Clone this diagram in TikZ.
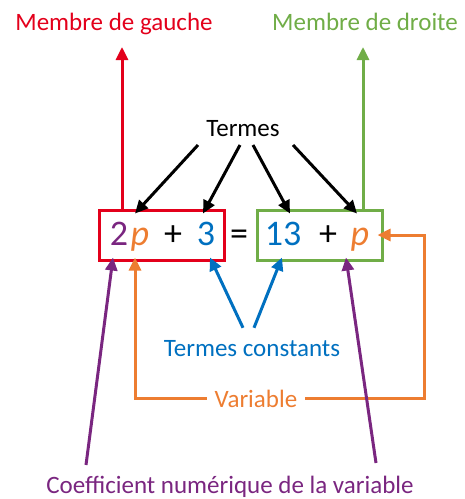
\documentclass[tikz,border=0pt]{standalone}
\usepackage{fontspec}
\setmainfont{Carlito}
\usetikzlibrary{arrows.meta,calc,positioning}
\definecolor{mred}{RGB}{227,0,27}
\definecolor{mgreen}{RGB}{112,173,71}
\definecolor{mblue}{RGB}{0,112,192}
\definecolor{morange}{RGB}{237,125,49}
\definecolor{mpurple}{RGB}{122,38,128}
\tikzset{
  box/.style={draw=#1,line width=3pt,minimum width=125pt,minimum height=50pt,inner sep=0pt},
  arr/.style={line width=3pt,#1,-{Triangle[length=13pt,width=12pt]}},
  lbl/.style={font=\fontsize{25}{30}\selectfont,inner sep=0pt,anchor=base},
  sym/.style={font=\fontsize{36}{40}\selectfont,inner sep=0pt,anchor=base},
}

\begin{document}
\begin{tikzpicture}[x=1pt,y=-1pt]
  \useasboundingbox (0,0) rectangle (465,499);
  % --- the equation in its two boxes ---
  \node[box=mred] (lhs) at (161.5,235) {};
  \node[box=mgreen] (rhs) at (319.5,235) {};
  \node[sym,mpurple] (two) at (119,245) {2};
  \node[sym,morange] (pl) at (140,245) {\textit{p}};
  \node[sym] (plus1) at (173,245) {+};
  \node[sym,mblue] (three) at (206,245) {3};
  \node[sym] (eq) at (239,245) {=};
  \node[sym,mblue] (thirteen) at (283,245) {13};
  \node[sym] (plus2) at (328,245) {+};
  \node[sym,morange] (pr) at (360,245) {\textit{p}};
  % --- members ---
  \node[lbl,mred] (gauche) at (114,30) {Membre de gauche};
  \node[lbl,mgreen] (droite) at (365,30) {Membre de droite};
  \coordinate (gtip) at (122,47);
  \coordinate (dtip) at (363,47);
  \draw[arr=mred] (lhs.north -| gtip) -- (gtip);
  \draw[arr=mgreen] (rhs.north -| dtip) -- (dtip);
  % --- terms ---
  \node[lbl] (termes) at (243,136) {Termes};
  \coordinate (t1) at (198,145);
  \coordinate (t2) at (240,145);
  \coordinate (t3) at (253,145);
  \coordinate (t4) at (293,145);
  \draw[arr=black] (t1) -- ($(lhs.north -| pl)+(-5,5)$);
  \draw[arr=black] (t2) -- ($(lhs.north -| three)+(-3,5)$);
  \draw[arr=black] (t3) -- ($(rhs.north -| thirteen)+(7,5)$);
  \draw[arr=black] (t4) -- ($(rhs.north -| pr)+(-3,5)$);
  % --- constant terms ---
  \node[lbl,mblue] (const) at (252,356) {Termes constants};
  \draw[arr=mblue] ($(const.north)+(-9,-12)$) -- ($(lhs.south -| three)+(4,-4)$);
  \draw[arr=mblue] ($(const.north)+(2,-12)$) -- ($(rhs.south -| thirteen)+(-1,-4)$);
  % --- variable ---
  \node[lbl,morange,inner xsep=8pt] (var) at (256,407) {Variable};
  \draw[arr=morange] (var.west) -| ($(lhs.south -| pl)+(-5,-4)$);
  \draw[arr=morange] (var.east) -| ($(rhs.east)+(41,0)$) -- ($(rhs.east)+(-6,0)$);
  % --- coefficient ---
  \node[lbl,mpurple] (coeff) at (230,493) {Coefficient numérique de la variable};
  \coordinate (c1) at (86,465);
  \coordinate (c2) at (376,463);
  \draw[arr=mpurple] (c1) -- ($(lhs.south -| two)+(-6,-4)$);
  \draw[arr=mpurple] (c2) -- ($(rhs.south -| pr)+(-14,-4)$);
\end{tikzpicture}
\end{document}
